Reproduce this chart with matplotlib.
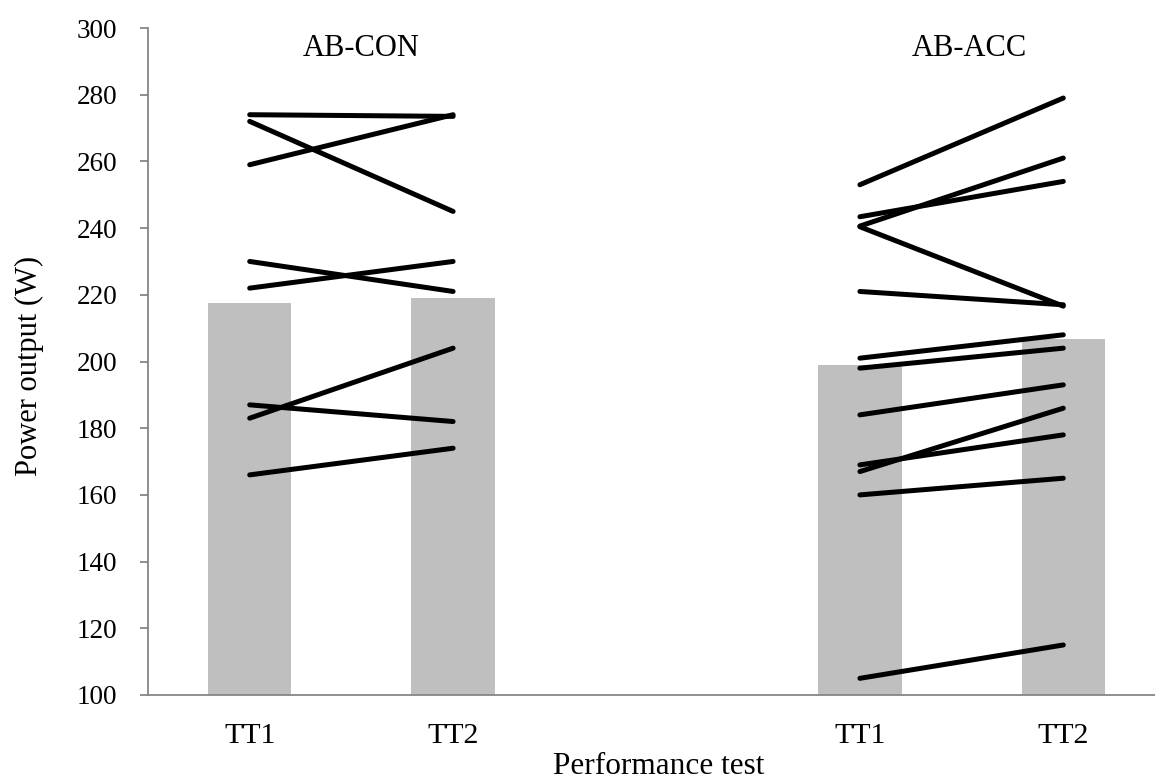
import matplotlib
matplotlib.use("Agg")
import matplotlib.pyplot as plt

plt.rcParams['font.family'] = ['Liberation Serif', 'DejaVu Serif']

# category slots along the x axis (middle slot is an empty spacer)
categories = ["TT1", "TT2", "", "TT1", "TT2"]
group_names = ["AB-CON", "AB-ACC"]

# group mean power output (W)
con_means = [217.4, 218.9]
acc_means = [198.9, 206.7]

# individual participants, TT1 -> TT2 (W)
con_tt1 = [274, 272, 259, 230, 222, 187, 183, 166]
con_tt2 = [273.5, 245, 274, 221, 230, 182, 204, 174]
acc_tt1 = [253, 243.4, 240.6, 240.4, 221, 201, 198, 184, 169, 167, 160, 105]
acc_tt2 = [279, 254, 261, 216.6, 217, 208, 204, 193, 178, 186, 165, 115]

fig = plt.figure(figsize=(11.55, 7.82), dpi=100)
ax = fig.add_axes([148/1155, 1 - 695/782, (1165 - 148)/1155, (695 - 28)/782])

bar_color = "#bfbfbf"
xpos = list(range(len(categories)))
ax.bar([0, 1], con_means, width=0.41, color=bar_color, bottom=0, zorder=1)
ax.bar([3, 4], acc_means, width=0.41, color=bar_color, bottom=0, zorder=1)

for a, b in zip(con_tt1, con_tt2):
    ax.plot([0, 1], [a, b], color="black", lw=3.6, solid_capstyle="round", zorder=3)
for a, b in zip(acc_tt1, acc_tt2):
    ax.plot([3, 4], [a, b], color="black", lw=3.6, solid_capstyle="round", zorder=3)

ax.set_xlim(-0.5, 4.5)
ax.set_ylim(100, 300)
ax.set_yticks(range(100, 301, 20))
ax.set_xticks(xpos)
ax.set_xticklabels(categories)

axis_color = "#868686"
for side in ["top", "right"]:
    ax.spines[side].set_visible(False)
for side in ["left", "bottom"]:
    ax.spines[side].set_color(axis_color)
    ax.spines[side].set_linewidth(1.3)
ax.tick_params(axis="y", direction="out", length=6, width=1.3, color=axis_color,
               labelsize=19.5, pad=16)
ax.tick_params(axis="x", length=0, labelsize=21.5, pad=20)

ax.text(0.55, 294, group_names[0], ha="center", va="center", fontsize=22)
ax.text(3.54, 294, group_names[1], ha="center", va="center", fontsize=22)

fig.text(29/1155, 1 - 366/782, "Power output (W)", rotation=90,
         ha="center", va="center", fontsize=22)
fig.text(659/1155, 1 - 766/782, "Performance test", ha="center", va="center",
         fontsize=22.5)

fig.savefig("out.png", dpi=100)
